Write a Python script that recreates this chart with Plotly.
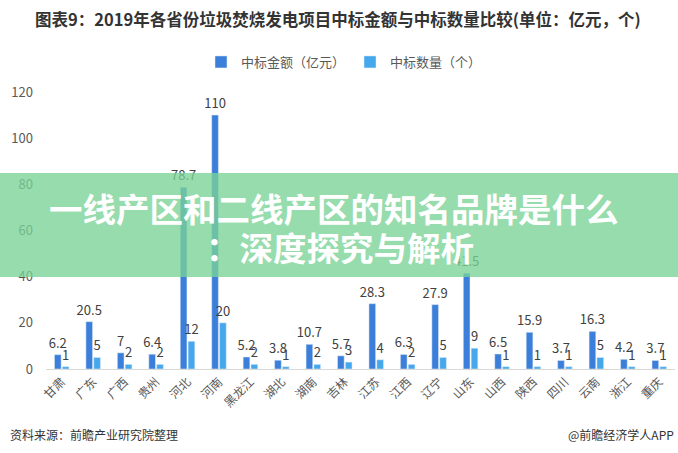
import plotly.graph_objects as go

provinces = ["甘肃", "广东", "广西", "贵州", "河北", "河南", "黑龙江", "湖北", "湖南", "吉林",
             "江苏", "江西", "辽宁", "山东", "山西", "陕西", "四川", "云南", "浙江", "重庆"]
amount = [6.2, 20.5, 7, 6.4, 78.7, 110, 5.2, 3.8, 10.7, 5.7,
          28.3, 6.3, 27.9, 41.5, 6.5, 15.9, 3.7, 16.3, 4.2, 3.7]
count = [1, 5, 2, 2, 12, 20, 2, 1, 2, 3,
         4, 2, 5, 9, 1, 1, 1, 5, 1, 1]
y_ticks = [0, 20, 40, 60, 80, 100, 120]

title_text = "图表9：2019年各省份垃圾焚烧发电项目中标金额与中标数量比较(单位：亿元，个)"
banner_line1 = "一线产区和二线产区的知名品牌是什么"
banner_line2 = "：深度探究与解析"
source_text = "资料来源：前瞻产业研究院整理"
credit_text = "@前瞻经济学人APP"

FONT = "Noto Sans CJK SC"
W, H = 678, 453
ML, MR, MT, MB = 46, 3, 92, 84
PW = W - ML - MR
PH = H - MT - MB

fig = go.Figure()
fig.add_trace(go.Bar(
    x=provinces, y=amount, name="中标金额（亿元）",
    marker_color="#3C7FDA", text=[f"{v:g}" for v in amount],
    textposition="outside", constraintext="none", cliponaxis=False,
    textfont=dict(size=13, color="#404040", family=FONT),
))
fig.add_trace(go.Bar(
    x=provinces, y=count, name="中标数量（个）",
    marker_color="#45A8EC", text=[f"{v:g}" for v in count],
    textposition="outside", constraintext="none", cliponaxis=False,
    textfont=dict(size=13, color="#404040", family=FONT),
))

def px_x(px):
    return (px - ML) / PW

def px_y(py):
    return (H - MB - py) / PH

fig.update_layout(
    width=W, height=H,
    margin=dict(l=ML, r=MR, t=MT, b=MB),
    paper_bgcolor="white", plot_bgcolor="white",
    barmode="group", bargap=0.5, bargroupgap=0.15,
    font=dict(family=FONT, color="#595959"),
    showlegend=True,
    legend=dict(orientation="h", x=px_x(344), xanchor="center", y=px_y(62), yanchor="middle",
                font=dict(size=13, color="#595959", family=FONT),
                itemwidth=30, traceorder="normal", bgcolor="rgba(0,0,0,0)"),
    xaxis=dict(tickangle=-45, showgrid=False, showline=True, linecolor="#D9D9D9", linewidth=1,
               ticks="", tickfont=dict(size=12, color="#595959", family=FONT)),
    yaxis=dict(range=[0, 120], tickvals=y_ticks, showgrid=False, zeroline=False, showline=False,
               ticks="", ticklabelstandoff=12,
               tickfont=dict(size=13, color="#595959", family=FONT)),
)

fig.add_annotation(text="<b>" + title_text + "</b>", xref="paper", yref="paper",
                   x=px_x(338), y=px_y(19), xanchor="center", yanchor="middle", showarrow=False,
                   font=dict(size=16.5, color="#333333", family=FONT))

fig.add_shape(type="rect", xref="paper", yref="paper", x0=px_x(0), x1=px_x(W),
              y0=px_y(277), y1=px_y(173), fillcolor="rgba(120,210,150,0.78)",
              line=dict(width=0), layer="above")

fig.add_annotation(text="<b>" + banner_line1 + "</b>", xref="paper", yref="paper",
                   x=px_x(334), y=px_y(207), xanchor="center", yanchor="middle", showarrow=False,
                   font=dict(size=33.5, color="white", family=FONT))
fig.add_annotation(text="<b>" + banner_line2 + "</b>", xref="paper", yref="paper",
                   x=px_x(340), y=px_y(246), xanchor="center", yanchor="middle", showarrow=False,
                   font=dict(size=33.5, color="white", family=FONT))

fig.add_annotation(text=source_text, xref="paper", yref="paper",
                   x=px_x(8), y=px_y(434), xanchor="left", yanchor="middle", showarrow=False,
                   font=dict(size=12, color="#333333", family=FONT))
fig.add_annotation(text=credit_text, xref="paper", yref="paper",
                   x=px_x(676), y=px_y(434), xanchor="right", yanchor="middle", showarrow=False,
                   font=dict(size=12, color="#333333", family=FONT))

fig.write_html("out.html")
